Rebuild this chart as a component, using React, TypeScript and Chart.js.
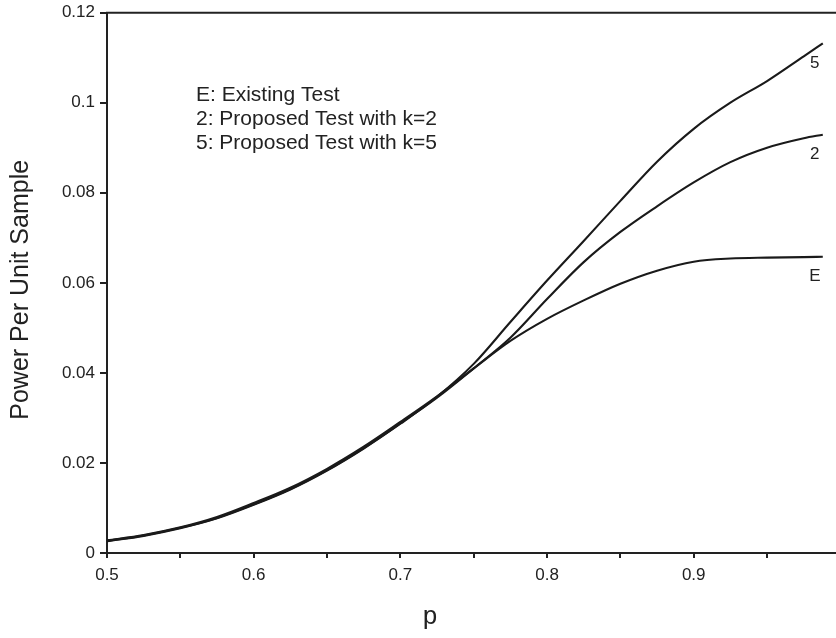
import React, { useEffect, useRef } from "react";
import { Chart, registerables } from "chart.js";

Chart.register(...registerables);

const pValues = [0.5, 0.525, 0.55, 0.575, 0.6, 0.625, 0.65, 0.675, 0.7, 0.725, 0.75, 0.775, 0.8, 0.825, 0.85, 0.875, 0.9, 0.925, 0.95, 0.975, 0.988];
const existingTest = [0.0028, 0.004, 0.0057, 0.008, 0.0111, 0.0145, 0.0187, 0.0236, 0.0291, 0.0348, 0.041, 0.0471, 0.052, 0.0561, 0.0598, 0.0627, 0.0647, 0.0654, 0.0656, 0.0657, 0.0658];
const proposedK2 = [0.0027, 0.0039, 0.0056, 0.0078, 0.0108, 0.0142, 0.0184, 0.0233, 0.0288, 0.0345, 0.041, 0.0478, 0.0564, 0.0646, 0.0713, 0.077, 0.0823, 0.0868, 0.09, 0.0921, 0.0929];
const proposedK5 = [0.0026, 0.0038, 0.0055, 0.0077, 0.0107, 0.0141, 0.0183, 0.0232, 0.0287, 0.0347, 0.042, 0.0513, 0.0605, 0.0693, 0.0782, 0.0869, 0.0942, 0.1, 0.1048, 0.1103, 0.1132];
const seriesTags = ["E", "2", "5"];
const legendLines = ["E: Existing Test", "2: Proposed Test with k=2", "5: Proposed Test with k=5"];
const yTitle = "Power Per Unit Sample";
const xTitle = "p";

const INK = "#222222";

const decorPlugin = {
  id: "decor",
  afterDraw(chart: any) {
    const { ctx, chartArea } = chart;
    ctx.save();
    ctx.strokeStyle = INK;
    ctx.lineWidth = 2;
    ctx.beginPath();
    ctx.moveTo(chartArea.left - 1, chartArea.top);
    ctx.lineTo(chartArea.right, chartArea.top);
    ctx.stroke();
    ctx.fillStyle = INK;
    ctx.font = "21px 'Liberation Sans', Arial, sans-serif";
    ctx.textAlign = "left";
    ctx.textBaseline = "alphabetic";
    legendLines.forEach((t, i) => {
      ctx.fillText(t, chartArea.left + 89, chartArea.top + 88 + i * 24);
    });
    ctx.font = "17px 'Liberation Sans', Arial, sans-serif";
    ctx.textAlign = "center";
    ctx.textBaseline = "middle";
    chart.data.datasets.forEach((ds: any, i: number) => {
      const meta = chart.getDatasetMeta(i);
      const last = meta.data[meta.data.length - 1];
      if (last) ctx.fillText(seriesTags[i], last.x - 8, last.y + 20);
    });
    ctx.font = "26px 'Liberation Mono', 'Courier New', monospace";
    ctx.textAlign = "center";
    ctx.textBaseline = "alphabetic";
    ctx.fillText(xTitle, chartArea.left + 323, chartArea.bottom + 71);
    ctx.font = "25px 'Liberation Sans', Arial, sans-serif";
    ctx.textAlign = "center";
    ctx.textBaseline = "middle";
    ctx.translate(21.5, (chartArea.top + chartArea.bottom) / 2 + 7);
    ctx.rotate(-Math.PI / 2);
    ctx.fillText(yTitle, 0, 0);
    ctx.restore();
  },
};

export default function App() {
  const ref = useRef<HTMLCanvasElement>(null);
  useEffect(() => {
    if (!ref.current) return;
    const mk = (vals: number[]) => pValues.map((p, i) => ({ x: p, y: vals[i] }));
    const lineStyle = {
      borderColor: "#1a1a1a",
      borderWidth: 2.1,
      pointRadius: 0,
      fill: false,
      cubicInterpolationMode: "monotone" as const,
    };
    const chart = new Chart(ref.current, {
      type: "line",
      data: {
        datasets: [
          { label: "E", data: mk(existingTest), ...lineStyle },
          { label: "2", data: mk(proposedK2), ...lineStyle },
          { label: "5", data: mk(proposedK5), ...lineStyle },
        ],
      },
      options: {
        animation: false,
        responsive: false,
        layout: { padding: { left: 0, top: 8, right: 0, bottom: 0 } },
        plugins: { legend: { display: false }, tooltip: { enabled: false } },
        scales: {
          x: {
            type: "linear",
            min: 0.5,
            max: 0.997,
            afterFit: (s: any) => {
              s.height = 85;
            },
            ticks: {
              stepSize: 0.05,
              includeBounds: false,
              maxRotation: 0,
              autoSkip: false,
              padding: 7,
              color: INK,
              font: { family: "'Liberation Sans', Arial, sans-serif", size: 17 },
              callback: (v: any) => {
                const n = Number(v);
                return Math.abs(n * 10 - Math.round(n * 10)) < 1e-6 ? n.toFixed(1) : "";
              },
            },
            grid: { drawOnChartArea: false, drawTicks: true, tickLength: 5, color: INK, lineWidth: 2 },
            border: { display: true, color: INK, width: 2 },
          },
          y: {
            type: "linear",
            min: 0,
            max: 0.12,
            afterFit: (s: any) => {
              s.width = 107;
            },
            ticks: {
              stepSize: 0.02,
              padding: 5,
              color: INK,
              font: { family: "'Liberation Sans', Arial, sans-serif", size: 17, lineHeight: 0.9 },
              callback: (v: any) => String(parseFloat(Number(v).toFixed(2))),
            },
            grid: { drawOnChartArea: false, drawTicks: true, tickLength: 7, color: INK, lineWidth: 2 },
            border: { display: true, color: INK, width: 2 },
            title: { display: false },
          },
        },
      },
      plugins: [decorPlugin],
    });
    return () => chart.destroy();
  }, []);
  return (
    <div style={{ position: "absolute", left: 0, top: 0, width: 836, height: 638, background: "#fff" }}>
      <canvas ref={ref} width={836} height={638} style={{ display: "block" }} />
    </div>
  );
}
